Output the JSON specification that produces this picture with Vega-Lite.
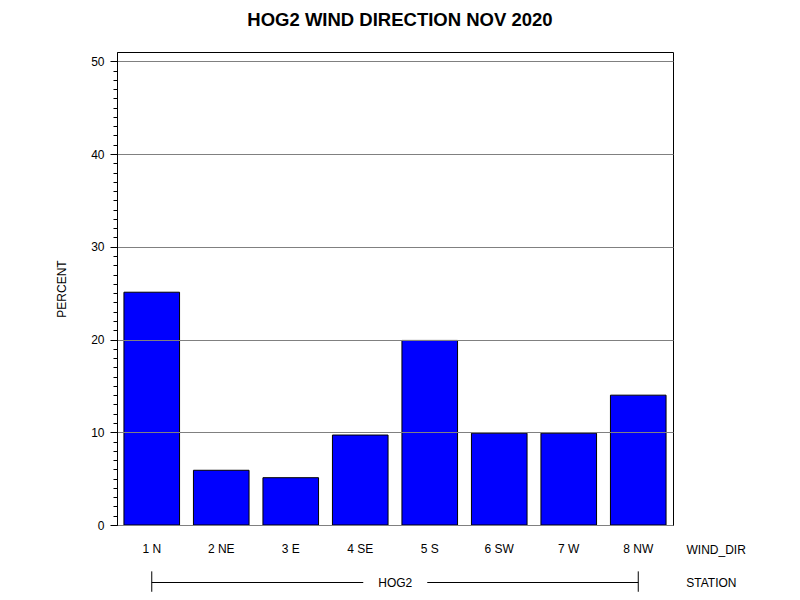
{
  "$schema": "https://vega.github.io/schema/vega-lite/v6.json",
  "width": 556,
  "height": 473,
  "autosize": {"type": "none"},
  "padding": {"left": 117, "top": 52, "right": 127, "bottom": 75},
  "background": "white",
  "config": {
    "font": "Liberation Sans",
    "view": {"stroke": "black", "strokeWidth": 1}
  },
  "title": {
    "text": "HOG2 WIND DIRECTION NOV 2020",
    "fontSize": 18.5,
    "fontWeight": "bold",
    "color": "black",
    "anchor": "middle",
    "dx": 5,
    "offset": 23
  },
  "datasets": {
    "bars": [
      {"WIND_DIR": "1 N", "PERCENT": 25.1},
      {"WIND_DIR": "2 NE", "PERCENT": 5.9},
      {"WIND_DIR": "3 E", "PERCENT": 5.1},
      {"WIND_DIR": "4 SE", "PERCENT": 9.7},
      {"WIND_DIR": "5 S", "PERCENT": 19.9},
      {"WIND_DIR": "6 SW", "PERCENT": 9.9},
      {"WIND_DIR": "7 W", "PERCENT": 9.9},
      {"WIND_DIR": "8 NW", "PERCENT": 14.0}
    ],
    "station": [
      {"STATION": "HOG2", "first": "1 N", "last": "8 NW", "mid": "4 SE", "row": -6.2, "capTop": -5.0, "capBottom": -7.2, "label": "STATION"}
    ]
  },
  "layer": [
    {
      "data": {"name": "bars"},
      "mark": {"type": "bar", "fill": "#0000FF", "stroke": "black", "strokeWidth": 1},
      "encoding": {
        "x": {
          "field": "WIND_DIR",
          "type": "nominal",
          "scale": {"paddingInner": 0.2, "paddingOuter": 0.1},
          "sort": ["1 N", "2 NE", "3 E", "4 SE", "5 S", "6 SW", "7 W", "8 NW"],
          "axis": {
            "title": "WIND_DIR",
            "titleFont": "Liberation Sans",
            "titleFontSize": 12,
            "titleFontWeight": "normal",
            "titleColor": "black",
            "titleAngle": 0,
            "titleAlign": "left",
            "titleBaseline": "middle",
            "titleX": 569,
            "titleY": 24,
            "labelAngle": 0,
            "labelFontSize": 12,
            "labelColor": "black",
            "labelBaseline": "middle",
            "labelPadding": 23,
            "ticks": false,
            "domainColor": "black",
            "grid": false
          }
        },
        "y": {
          "field": "PERCENT",
          "type": "quantitative",
          "scale": {"domain": [0, 51], "nice": false, "zero": true},
          "axis": {
            "title": "PERCENT",
            "titleFontSize": 12,
            "titleFontWeight": "normal",
            "titleColor": "black",
            "titlePadding": 22,
            "tickCount": 100,
            "format": "d",
            "values": [0,1,2,3,4,5,6,7,8,9,10,11,12,13,14,15,16,17,18,19,20,21,22,23,24,25,26,27,28,29,30,31,32,33,34,35,36,37,38,39,40,41,42,43,44,45,46,47,48,49,50],
            "labelExpr": "datum.value % 10 == 0 ? datum.label : ''",
            "labelOverlap": false,
            "labelFontSize": 12,
            "labelColor": "black",
            "labelPadding": 6,
            "tickColor": "black",
            "tickSize": {"condition": {"test": "datum.value % 10 == 0", "value": 7}, "value": 4},
            "domainColor": "black",
            "grid": true,
            "gridColor": "#808080",
            "gridOpacity": {"condition": {"test": "datum.value % 10 == 0", "value": 1}, "value": 0},
            "zindex": 1
          }
        }
      }
    },
    {
      "data": {"name": "station"},
      "mark": {"type": "rule", "color": "black", "strokeWidth": 1},
      "encoding": {
        "x": {"field": "first", "type": "nominal"},
        "x2": {"field": "last"},
        "y": {"field": "row", "type": "quantitative"}
      }
    },
    {
      "data": {"name": "station"},
      "mark": {"type": "rule", "color": "black", "strokeWidth": 1},
      "encoding": {
        "x": {"field": "first", "type": "nominal"},
        "y": {"field": "capTop", "type": "quantitative"},
        "y2": {"field": "capBottom"}
      }
    },
    {
      "data": {"name": "station"},
      "mark": {"type": "rule", "color": "black", "strokeWidth": 1},
      "encoding": {
        "x": {"field": "last", "type": "nominal"},
        "y": {"field": "capTop", "type": "quantitative"},
        "y2": {"field": "capBottom"}
      }
    },
    {
      "data": {"name": "station"},
      "mark": {"type": "point", "shape": "M-1,-0.2L1,-0.2L1,0.2L-1,0.2Z", "size": 4096, "filled": true, "fill": "white", "stroke": null, "opacity": 1, "xOffset": 35},
      "encoding": {
        "x": {"field": "mid", "type": "nominal"},
        "y": {"field": "row", "type": "quantitative"}
      }
    },
    {
      "data": {"name": "station"},
      "mark": {"type": "text", "fontSize": 12, "color": "black", "align": "center", "baseline": "middle", "xOffset": 35},
      "encoding": {
        "x": {"field": "mid", "type": "nominal"},
        "y": {"field": "row", "type": "quantitative"},
        "text": {"field": "STATION"}
      }
    },
    {
      "data": {"name": "station"},
      "mark": {"type": "text", "fontSize": 12, "color": "black", "align": "left", "baseline": "middle", "xOffset": 48},
      "encoding": {
        "x": {"field": "last", "type": "nominal"},
        "y": {"field": "row", "type": "quantitative"},
        "text": {"field": "label"}
      }
    }
  ]
}
